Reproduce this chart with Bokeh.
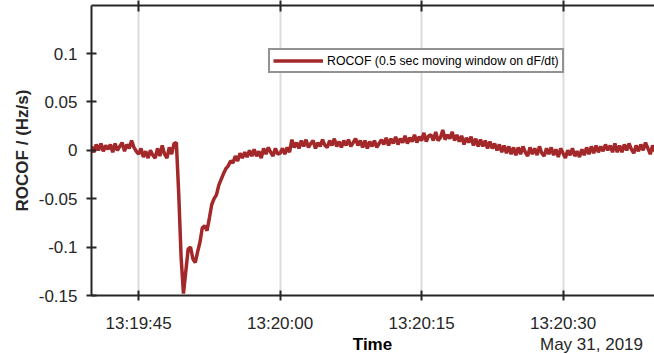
import pandas as pd
from bokeh.plotting import figure
from bokeh.layouts import column
from bokeh.models import (FixedTicker, DatetimeTickFormatter, NumeralTickFormatter,
                          Range1d, DatetimeAxis, Div)
from bokeh.embed import file_html
from bokeh.resources import INLINE

# ---- data -------------------------------------------------------------
start_time = "2019-05-31 13:19:40"
end_time = "2019-05-31 13:20:39.7"
sample_step_s = 0.25
# ROCOF in Hz/s, one row per second (4 samples each)
rocof = [
    0.004, -0.002, 0.006, 0.000,
    0.007, -0.001, 0.005, 0.001,
    0.006, -0.002, 0.007, 0.000,
    0.004, 0.008, -0.001, 0.006,
    0.002, 0.010, 0.003, -0.001,
    -0.004, 0.002, -0.007, -0.001,
    -0.008, 0.000, -0.005, -0.008,
    0.002, -0.006, 0.005, -0.004,
    -0.008, 0.003, -0.004, 0.007,
    0.008, -0.045, -0.110, -0.148,
    -0.125, -0.102, -0.100, -0.112,
    -0.116, -0.105, -0.095, -0.080,
    -0.078, -0.083, -0.070, -0.056,
    -0.050, -0.046, -0.036, -0.030,
    -0.024, -0.019, -0.016, -0.011,
    -0.013, -0.006, -0.011, -0.003,
    -0.008, -0.002, -0.007, 0.000,
    -0.006, 0.001, -0.006, -0.001,
    -0.008, 0.002, -0.004, 0.003,
    -0.002, -0.006, 0.002, -0.004,
    -0.003, 0.002, -0.004, 0.003,
    -0.002, 0.011, 0.003, 0.008,
    0.002, 0.010, 0.004, 0.011,
    0.003, 0.007, 0.010, 0.002,
    0.008, 0.004, 0.011, 0.005,
    0.003, 0.010, 0.005, 0.012,
    0.004, 0.009, 0.003, 0.010,
    0.005, 0.011, 0.004, 0.008,
    0.012, 0.005, 0.010, 0.003,
    0.010, 0.002, 0.009, 0.004,
    0.010, 0.003, 0.007, 0.011,
    0.006, 0.013, 0.005, 0.012,
    0.007, 0.014, 0.006, 0.012,
    0.008, 0.015, 0.007, 0.013,
    0.009, 0.016, 0.008, 0.014,
    0.010, 0.018, 0.009, 0.015,
    0.016, 0.010, 0.019, 0.010,
    0.013, 0.021, 0.011, 0.016,
    0.012, 0.019, 0.010, 0.016,
    0.009, 0.015, 0.006, 0.013,
    0.008, 0.014, 0.005, 0.012,
    0.004, 0.011, 0.004, 0.010,
    0.002, 0.009, 0.002, 0.007,
    0.000, 0.006, -0.002, 0.005,
    -0.003, 0.004, -0.004, 0.003,
    -0.005, 0.003, -0.004, 0.004,
    -0.002, -0.006, 0.003, -0.004,
    0.002, -0.005, 0.004, -0.003,
    -0.006, 0.002, -0.004, 0.003,
    -0.005, 0.001, -0.007, 0.002,
    -0.003, -0.008, 0.000, -0.005,
    0.002, -0.006, -0.001, -0.007,
    0.001, -0.005, 0.003, -0.004,
    0.004, -0.003, 0.005, -0.002,
    0.004, -0.001, 0.006, 0.000,
    0.005, -0.002, 0.007, -0.002,
    0.005, -0.002, 0.006, 0.000,
    0.007, 0.001, -0.003, 0.005,
    -0.001, 0.006, 0.000, 0.008,
    0.002, -0.004, 0.005, -0.001,
    0.000,
]
x_tick_times = ["2019-05-31 13:19:45", "2019-05-31 13:20:00",
                "2019-05-31 13:20:15", "2019-05-31 13:20:30"]
y_ticks = [-0.15, -0.1, -0.05, 0, 0.05, 0.1]
y_min, y_max = -0.15, 0.1496
series_label = "ROCOF (0.5 sec moving window on dF/dt)"
date_label = "May 31, 2019"
x_label = "Time"
y_label = "ROCOF / (Hz/s)"

# ---- build ------------------------------------------------------------
t0 = pd.Timestamp(start_time)
times = [t0 + pd.Timedelta(seconds=i * sample_step_s) for i in range(len(rocof))]
x_end = pd.Timestamp(end_time)

FONT = "Liberation Sans"
INK = "#262626"
RED = "#a3282a"
FRAME_W, FRAME_H = 563, 290
BORDER_L, BORDER_T, BORDER_B = 91, 5, 39

p = figure(x_axis_type="datetime", output_backend="svg", toolbar_location=None,
           frame_width=FRAME_W, frame_height=FRAME_H,
           min_border_left=BORDER_L, min_border_right=0,
           min_border_top=BORDER_T, min_border_bottom=BORDER_B,
           x_range=Range1d(t0, x_end), y_range=Range1d(y_min, y_max))
p.outline_line_color = None
p.background_fill_color = "white"
p.border_fill_color = "white"

p.line(times, rocof, line_color=RED, line_width=3.5, legend_label=series_label)

xt = [pd.Timestamp(s).value / 1e6 for s in x_tick_times]
fmt = "%H:%M:%S"


def dt_fmt():
    return DatetimeTickFormatter(microseconds=fmt, milliseconds=fmt, seconds=fmt,
                                 minsec=fmt, minutes=fmt, hourmin=fmt, hours=fmt)


xa = p.xaxis[0]
xa.ticker = FixedTicker(ticks=xt)
xa.formatter = dt_fmt()

# top frame edge with ticks, no labels drawn
top = DatetimeAxis(ticker=FixedTicker(ticks=xt), formatter=dt_fmt())
top.major_label_text_font_size = "0px"
top.major_label_text_color = None
top.major_label_standoff = 0
p.add_layout(top, "above")

ya = p.yaxis[0]
ya.ticker = FixedTicker(ticks=y_ticks)
ya.formatter = NumeralTickFormatter(format="0.[00]")
ya.axis_label = y_label
ya.axis_label_text_font = FONT
ya.axis_label_text_font_style = "bold"
ya.axis_label_text_font_size = "17px"
ya.axis_label_text_color = INK
ya.axis_label_standoff = 4

for ax in (xa, ya, top):
    ax.axis_line_color = INK
    ax.axis_line_width = 2
    ax.major_tick_line_color = INK
    ax.major_tick_line_width = 2
    ax.major_tick_in = 5
    ax.major_tick_out = 5
    ax.minor_tick_line_color = None
for ax in (xa, ya):
    ax.major_label_text_font = FONT
    ax.major_label_text_color = INK
    ax.major_label_text_font_size = "17px"
ya.major_label_standoff = 9
xa.major_label_standoff = 13
top.major_tick_in = 6

p.ygrid.grid_line_color = None
p.xgrid.grid_line_color = "#dcdcdc"
p.xgrid.grid_line_width = 2

lg = p.legend[0]
lg.location = (177, 222)
lg.label_text_font = FONT
lg.label_text_font_size = "12.3px"
lg.label_text_color = "#000000"
lg.glyph_width = 50
lg.glyph_height = 15
lg.label_height = 15
lg.label_standoff = 4
lg.padding = 3
lg.margin = 0
lg.border_line_color = INK
lg.border_line_width = 2
lg.background_fill_alpha = 1

# bottom text row: x-axis title (centred under the frame) and the date (right)
total_w = BORDER_L + FRAME_W
row_h = 20
div = Div(
    text=(
        f'<div style="position:relative;width:{total_w}px;height:{row_h}px;'
        f"font-family:'{FONT}';font-size:17px;line-height:{row_h}px;white-space:nowrap;\">"
        f'<span style="position:absolute;left:{BORDER_L}px;top:0;width:{FRAME_W}px;'
        f'text-align:center;font-weight:bold;color:#000000;">{x_label}</span>'
        f'<span style="position:absolute;right:11px;top:0;color:{INK};">{date_label}</span>'
        f'</div>'
    ),
    width=total_w, height=row_h, margin=0,
)

layout = column(p, div, spacing=0)
open("out.html", "w").write(file_html(layout, INLINE))
